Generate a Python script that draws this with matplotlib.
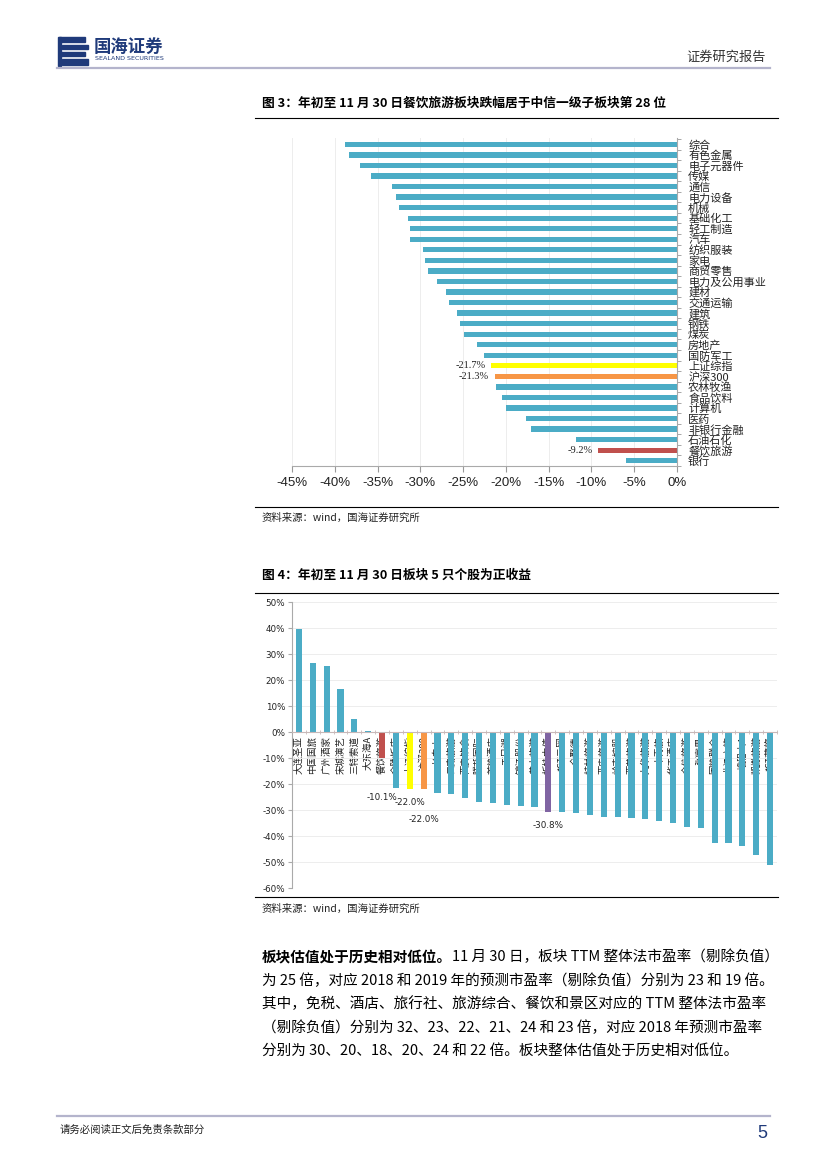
import numpy as np
import matplotlib.pyplot as plt
from matplotlib.patches import Rectangle
from matplotlib.lines import Line2D

W, H = 827, 1169
plt.rcParams['font.family'] = ['Noto Sans CJK SC', 'DejaVu Sans']
plt.rcParams['axes.unicode_minus'] = False

# ---- figure 3: CITIC level-1 sectors, YTD return to Nov 30 (%)
sector_names = ['综合', '有色金属', '电子元器件', '传媒', '通信', '电力设备', '机械',
                '基础化工', '轻工制造', '汽车', '纺织服装', '家电', '商贸零售',
                '电力及公用事业', '建材', '交通运输', '建筑', '钢铁', '煤炭', '房地产',
                '国防军工', '上证综指', '沪深300', '农林牧渔', '食品饮料', '计算机',
                '医药', '非银行金融', '石油石化', '餐饮旅游', '银行']
sector_returns = [-38.8, -38.3, -37.0, -35.8, -33.3, -32.8, -32.5, -31.5, -31.2, -31.2,
                  -29.7, -29.4, -29.1, -28.0, -27.0, -26.7, -25.7, -25.4, -24.9, -23.4,
                  -22.6, -21.7, -21.3, -21.2, -20.4, -20.0, -17.6, -17.1, -11.8, -9.2, -6.0]
sector_labelled = ['上证综指', '沪深300', '餐饮旅游']

# ---- figure 4: stocks in the sector, YTD return to Nov 30 (%)
stock_names = ['大连圣亚', '中国国旅', '广州酒家', '宋城演艺', '三特索道', '大东海A',
               '餐饮旅游', '金陵饭店', '上证综指', '沪深300', '长白山', '云南旅游',
               '西安饮食', '腾邦国际', '首旅酒店', '天目湖', '锦江股份', '黄山旅游',
               '板块中值', '*ST云网', '全聚德', '桂林旅游', '西安旅游', '岭南控股',
               '西藏旅游', '九华旅游', '中青旅', '华天酒店', '众信旅游', '张家界',
               '国旅联合', '曲江文旅', '峨眉山A', '凯撒旅游', '*ST藏旅']
stock_returns = [39.6, 26.7, 25.4, 16.5, 4.9, 0.3, -10.1, -21.4, -22.0, -22.0,
                 -23.3, -23.8, -25.5, -26.8, -27.2, -28.0, -28.3, -28.9, -30.8,
                 -30.6, -31.3, -31.9, -32.6, -32.8, -33.1, -33.6, -34.1, -35.0,
                 -36.7, -36.8, -42.8, -42.8, -44.0, -47.4, -51.0]
stock_labelled = ['餐饮旅游', '上证综指', '沪深300', '板块中值']

TEAL = '#4BACC6'
highlight = {'上证综指': '#FFFF00', '沪深300': '#F79646', '餐饮旅游': '#C0504D',
             '板块中值': '#8064A2'}
NAVY = '#1F3A7A'


def fx(px):
    return px / W


def fy(py):
    return 1 - py / H


def box(left, top, right, bottom):
    return [fx(left), fy(bottom), (right - left) / W, (bottom - top) / H]


def hline(fig, x0, x1, y, color='black', lw=0.8):
    fig.add_artist(Line2D([fx(x0), fx(x1)], [fy(y), fy(y)], color=color, lw=lw,
                          transform=fig.transFigure))


fig = plt.figure(figsize=(W / 100, H / 100), dpi=100)

# ---- page header
for i, (yy, hh) in enumerate([(37, 5), (45, 4), (52, 4), (59, 6)]):
    fig.add_artist(Rectangle((fx(59 + i % 2 * 3), fy(yy + hh)), 26 / W, hh / H,
                             color=NAVY, transform=fig.transFigure))
fig.add_artist(Rectangle((fx(58), fy(66)), 3 / W, 29 / H, color=NAVY,
                         transform=fig.transFigure))
fig.text(fx(94), fy(47), '国海证券', fontsize=12.5, fontweight='bold', color=NAVY,
         va='center', ha='left')
fig.text(fx(95), fy(59), 'SEALAND SECURITIES', fontsize=4.6, color=NAVY,
         va='center', ha='left', family=['Liberation Sans Narrow', 'DejaVu Sans'])
fig.text(fx(766), fy(57), '证券研究报告', fontsize=9.5, color='#333333',
         va='center', ha='right')
hline(fig, 57, 770, 68, color='#B4B4CC', lw=1.6)

# ---- figure 3
fig.text(fx(262), fy(103), '图 3：年初至 11 月 30 日餐饮旅游板块跌幅居于中信一级子板块第 28 位',
         fontsize=9.2, fontweight='bold', va='center', ha='left')
hline(fig, 255, 778, 118)

ax = fig.add_axes(box(292, 138, 677, 466))
y = np.arange(len(sector_names))
colors = [highlight.get(n, TEAL) for n in sector_names]
ax.barh(y, sector_returns, height=0.5, color=colors, zorder=2)
ax.set_xlim(-45, 0)
ax.set_ylim(len(sector_names) - 0.6, -0.6)
ax.set_xticks(np.arange(-45, 1, 5))
ax.set_xticklabels([f'{v}%' for v in range(-45, 1, 5)],
                   family=['Liberation Sans', 'DejaVu Sans'], fontsize=9.5, color='#222222')
ax.grid(axis='x', color='#EDEDED', lw=0.7, zorder=0)
ax.yaxis.tick_right()
ax.set_yticks(y)
ax.set_yticklabels(sector_names, fontsize=8, color='#222222')
ax.set_yticks(np.arange(-0.5, len(sector_names), 1), minor=True)
ax.tick_params(axis='y', which='major', length=0, pad=8)
ax.tick_params(axis='y', which='minor', length=3, color='#999999', direction='out')
ax.tick_params(axis='x', length=4, color='#999999', pad=4)
for s in ['top', 'left']:
    ax.spines[s].set_visible(False)
for s in ['right', 'bottom']:
    ax.spines[s].set_color('#AAAAAA')
for n, v, yy in zip(sector_names, sector_returns, y):
    if n in sector_labelled:
        ax.annotate(f'{v:.1f}%', xy=(v, yy), xytext=(-4, 0), textcoords='offset points',
                    ha='right', va='center', fontsize=7.5, color='#222222',
                    family=['Liberation Serif', 'DejaVu Serif'])

hline(fig, 255, 778, 507)
fig.text(fx(262), fy(518), '资料来源：wind，国海证券研究所', fontsize=7.5,
         va='center', ha='left', color='#222222')

# ---- figure 4
fig.text(fx(262), fy(575), '图 4：年初至 11 月 30 日板块 5 只个股为正收益',
         fontsize=9.2, fontweight='bold', va='center', ha='left')
hline(fig, 255, 778, 593)

ax2 = fig.add_axes(box(292, 602, 777, 888))
x = np.arange(len(stock_names))
colors = [highlight.get(n, TEAL) for n in stock_names]
ax2.bar(x, stock_returns, width=0.45, color=colors, zorder=2)
ax2.set_ylim(-60, 50)
ax2.set_xlim(-0.45, len(stock_names) - 0.5)
ax2.set_yticks(np.arange(-60, 51, 10))
ax2.set_yticklabels([f'{v}%' for v in range(-60, 51, 10)], fontsize=6.3,
                    family=['Liberation Sans Narrow', 'DejaVu Sans'], color='#222222')
ax2.grid(axis='y', color='#EDEDED', lw=0.7, zorder=0)
ax2.spines['bottom'].set_position(('data', 0))
ax2.spines['bottom'].set_color('#C8B8B8')
ax2.spines['left'].set_color('#AAAAAA')
for s in ['top', 'right']:
    ax2.spines[s].set_visible(False)
ax2.set_xticks(x)
ax2.set_xticklabels(stock_names, rotation=90, fontsize=6.8, color='#222222',
                    ha='center', va='top')
ax2.set_xticks(np.arange(-0.5, len(stock_names), 1), minor=True)
ax2.tick_params(axis='x', which='major', length=0, pad=3)
ax2.tick_params(axis='x', which='minor', length=3, color='#C8B8B8', direction='inout')
ax2.tick_params(axis='y', length=3, color='#AAAAAA', pad=2)
label_offsets = {'餐饮旅游': 39, '上证综指': 13, '沪深300': 30, '板块中值': 13}
for n, v, xx in zip(stock_names, stock_returns, x):
    if n in stock_labelled:
        ax2.annotate(f'{v:.1f}%', xy=(xx, v), xytext=(0, -label_offsets[n] * 0.72),
                     textcoords='offset points', ha='center', va='center',
                     fontsize=6.3, color='#222222',
                     family=['Liberation Sans Narrow', 'DejaVu Sans'])

hline(fig, 255, 778, 897)
fig.text(fx(262), fy(909), '资料来源：wind，国海证券研究所', fontsize=7.5,
         va='center', ha='left', color='#222222')

# ---- body text
para_fs = 10.5
t0 = fig.text(fx(262), fy(957), '板块估值处于历史相对低位。', fontsize=para_fs,
              fontweight='bold', va='center', ha='left')
fig.add_artist(plt.Annotation('11 月 30 日，板块 TTM 整体法市盈率（剔除负值）', xy=(1, 0.5),
                              xycoords=t0, va='center', ha='left', fontsize=para_fs,
                              annotation_clip=False))
body_lines = ['为 25 倍，对应 2018 和 2019 年的预测市盈率（剔除负值）分别为 23 和 19 倍。',
              '其中，免税、酒店、旅行社、旅游综合、餐饮和景区对应的 TTM 整体法市盈率',
              '（剔除负值）分别为 32、23、22、21、24 和 23 倍，对应 2018 年预测市盈率',
              '分别为 30、20、18、20、24 和 22 倍。板块整体估值处于历史相对低位。']
for i, line in enumerate(body_lines):
    fig.text(fx(262), fy(980.5 + i * 23.5), line, fontsize=para_fs, va='center', ha='left')

# ---- footer
hline(fig, 57, 770, 1116, color='#B4B4CC', lw=1.6)
fig.text(fx(60), fy(1130), '请务必阅读正文后免责条款部分', fontsize=7.5, va='center',
         ha='left', color='#222222')
fig.text(fx(767), fy(1133), '5', fontsize=13, va='center', ha='right', color=NAVY,
         family=['Liberation Sans', 'DejaVu Sans'])

fig.savefig('out.png', dpi=100)
